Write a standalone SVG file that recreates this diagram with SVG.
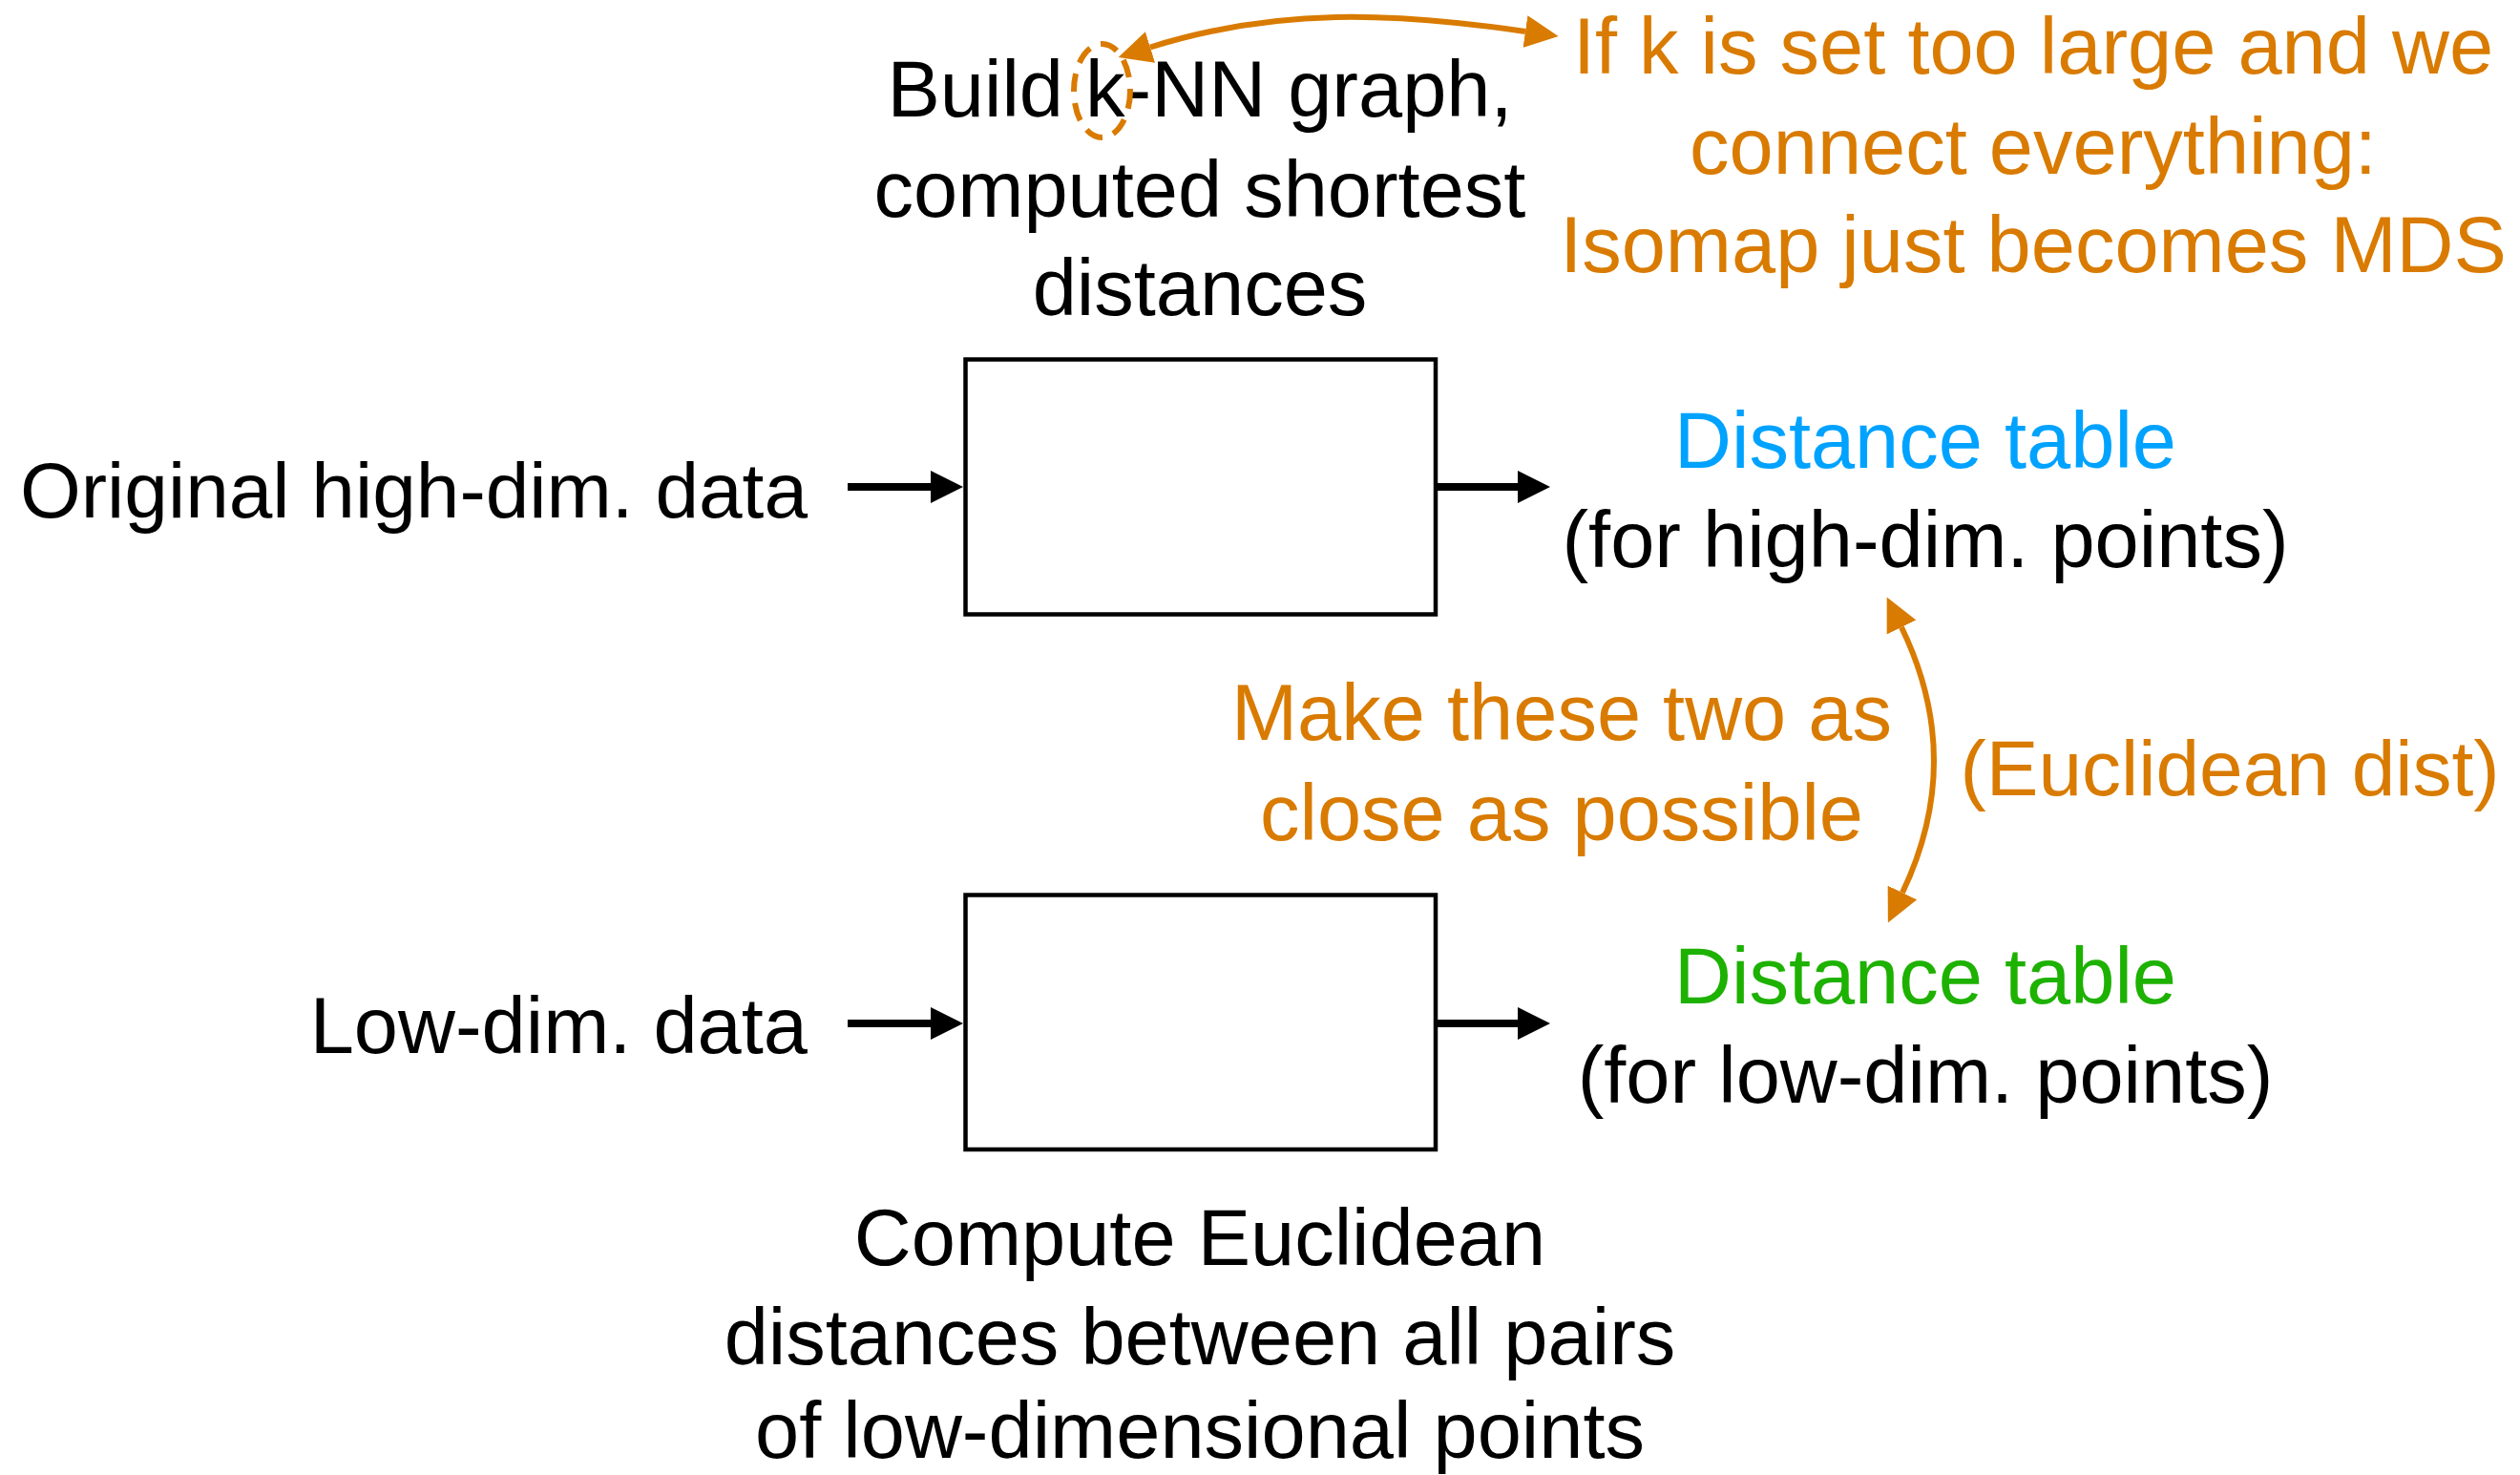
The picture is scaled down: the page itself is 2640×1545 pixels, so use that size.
<svg xmlns="http://www.w3.org/2000/svg" width="2640" height="1545" viewBox="0 0 2640 1545">
<style>
text{font-family:"Liberation Sans",Arial,sans-serif;font-size:83px;fill:#000}
.c{text-anchor:middle}
.e{text-anchor:end}
.or{fill:#D97B00}
.bl{fill:#00A2FF}
.gr{fill:#1DB100}
.box{fill:#fff;stroke:#000;stroke-width:4.5}
.ka{stroke:#000;stroke-width:8;fill:none}
.oa{stroke:#D97B00;stroke-width:6;fill:none}
</style>
<defs>
<marker id="hk" markerUnits="userSpaceOnUse" markerWidth="34" markerHeight="34" refX="0" refY="17" orient="auto"><path d="M0,0 L34,17 L0,34 z" fill="#000"/></marker>
<marker id="ho" markerUnits="userSpaceOnUse" markerWidth="35" markerHeight="34" refX="0" refY="17" orient="auto-start-reverse"><path d="M0,0 L35,17 L0,34 z" fill="#D97B00"/></marker>
</defs>
<g id="node-high-box"><rect class="box" x="1011.5" y="376.5" width="492.5" height="267"/></g>
<g id="node-low-box"><rect class="box" x="1011.5" y="937.5" width="492.5" height="266.5"/></g>
<g id="node-high-input"><text class="e" x="846" y="542" style="font-size:82px">Original high-dim. data</text></g>
<g id="node-low-input"><text class="e" x="846" y="1103">Low-dim. data</text></g>
<g id="node-high-label"><text class="c" x="1257" y="122">Build k-NN graph,</text><text class="c" x="1257" y="227">computed shortest</text><text class="c" x="1257" y="330">distances</text>
<ellipse cx="1154.5" cy="95" rx="29.5" ry="49" fill="none" stroke="#D97B00" stroke-width="6" stroke-dasharray="19 12"/></g>
<g id="node-note"><text class="c or" x="2130" y="77">If k is set too large and we</text><text class="c or" x="2130" y="182">connect everything:</text><text class="c or" x="2130" y="285">Isomap just becomes MDS</text></g>
<g id="node-high-table"><text class="c bl" x="2017" y="490">Distance table</text><text class="c" x="2017" y="594">(for high-dim. points)</text></g>
<g id="node-low-table"><text class="c gr" x="2017" y="1051">Distance table</text><text class="c" x="2017" y="1155">(for low-dim. points)</text></g>
<g id="node-make"><text class="c or" x="1636" y="775">Make these two as</text><text class="c or" x="1636" y="880">close as possible</text></g>
<g id="node-eucl"><text class="c or" x="2336" y="833" style="font-size:82px">(Euclidean dist)</text></g>
<g id="node-low-label"><text class="c" x="1257" y="1325">Compute Euclidean</text><text class="c" x="1257" y="1429">distances between all pairs</text><text class="c" x="1257" y="1527">of low-dimensional points</text></g>
<g id="connectors">
<path class="ka" d="M888,510 H975" marker-end="url(#hk)"/>
<path class="ka" d="M1506,510 H1590" marker-end="url(#hk)"/>
<path class="ka" d="M888,1072 H975" marker-end="url(#hk)"/>
<path class="ka" d="M1506,1072 H1590" marker-end="url(#hk)"/>
<path class="oa" d="M1205,49.5 C1338.6,7.5 1459.4,13 1598,33" marker-start="url(#ho)" marker-end="url(#ho)"/>
<path class="oa" d="M1992,657 Q2059.5,796 1993,935" marker-start="url(#ho)" marker-end="url(#ho)"/>
</g>
</svg>
